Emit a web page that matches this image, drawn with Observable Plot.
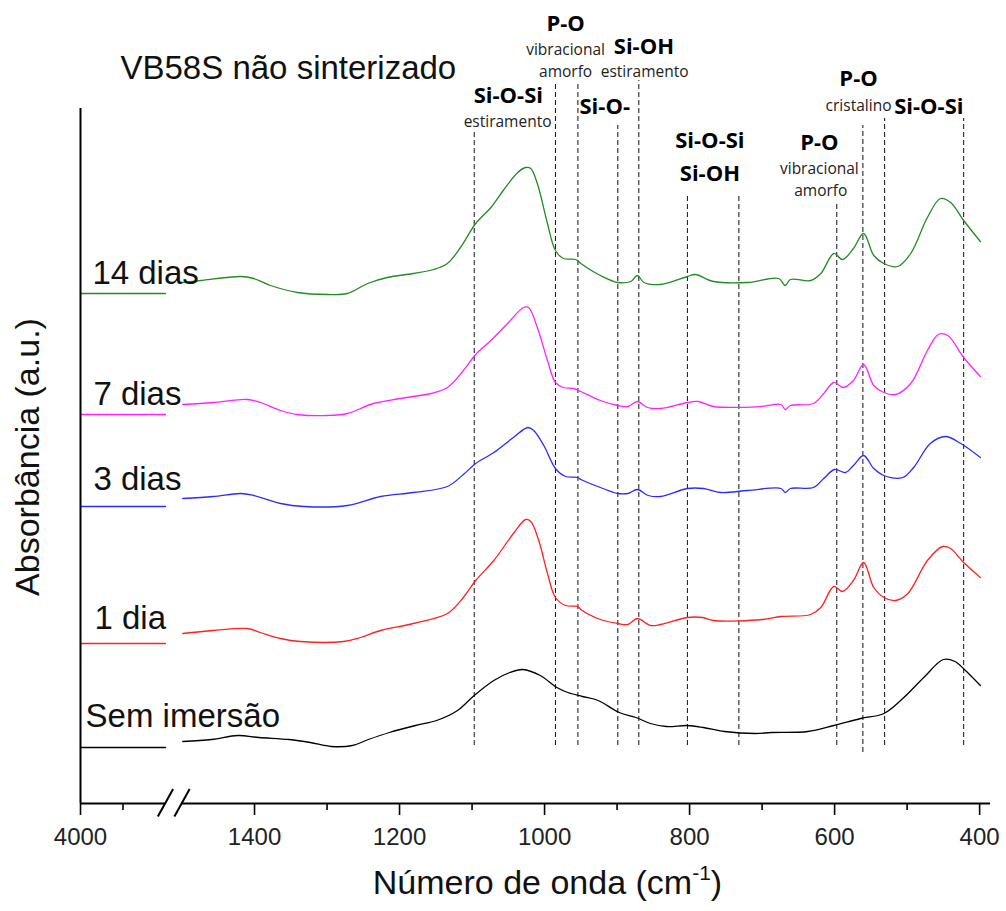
<!DOCTYPE html>
<html>
<head>
<meta charset="utf-8">
<script src="https://cdn.jsdelivr.net/npm/d3@7"></script>
<script src="https://cdn.jsdelivr.net/npm/@observablehq/plot@0.6"></script>
<style>
  body { margin: 0; background: #fff; }
  svg { display: block; }
</style>
</head>
<body>
<div id="chart"></div>
<script>
// ---- Data (wavenumber cm-1, absorbance a.u. with vertical offsets) ----
const wn14 = [1499,1474,1419,1401,1378,1341,1299,1272,1244,1217,1181,1153,1134,1116,1095,1074,1057,1037,1026,1019,1010,996,985,974,957,950,923,899,881,872,863,840,803,792,767,720,677,668,661,633,619,601,589,574,560,546,532,513,495,472,454,440,422,399];
const ab14 = [5.21,5.23,5.27,5.25,5.18,5.11,5.09,5.10,5.20,5.26,5.30,5.34,5.40,5.56,5.80,5.96,6.13,6.31,6.36,6.35,6.20,5.80,5.53,5.45,5.44,5.40,5.28,5.21,5.22,5.28,5.21,5.19,5.27,5.29,5.22,5.21,5.25,5.18,5.24,5.23,5.30,5.50,5.44,5.55,5.70,5.48,5.40,5.37,5.50,5.86,6.05,6.01,5.83,5.62];

const wn7 = [1499,1457,1410,1392,1364,1341,1299,1272,1236,1199,1157,1134,1112,1095,1074,1051,1029,1022,1010,996,985,974,960,950,923,899,885,872,858,840,803,788,767,702,674,668,661,629,615,601,588,574,560,546,532,516,495,472,457,444,422,399];
const ab7 = [3.99,4.01,4.04,4.01,3.93,3.89,3.88,3.90,4.00,4.05,4.10,4.16,4.33,4.49,4.63,4.80,4.96,4.96,4.76,4.43,4.21,4.16,4.15,4.12,4.03,3.98,3.97,4.02,3.96,3.95,4.01,4.02,3.97,3.97,3.99,3.94,3.98,4.00,4.10,4.21,4.16,4.23,4.39,4.18,4.11,4.09,4.20,4.53,4.69,4.68,4.46,4.27];

const wn3 = [1499,1457,1419,1401,1364,1332,1272,1226,1181,1134,1112,1095,1070,1043,1023,1015,1001,985,971,954,950,923,899,885,872,857,840,803,781,757,720,674,668,661,629,615,600,585,574,560,546,532,506,491,468,447,426,399];
const ab3 = [3.05,3.07,3.10,3.08,3.00,2.97,2.98,3.07,3.11,3.17,3.29,3.40,3.51,3.66,3.76,3.73,3.58,3.35,3.27,3.26,3.24,3.16,3.10,3.10,3.14,3.08,3.07,3.15,3.15,3.11,3.13,3.15,3.11,3.15,3.16,3.25,3.34,3.31,3.38,3.48,3.35,3.28,3.26,3.36,3.60,3.67,3.60,3.46];

const wn1 = [1499,1457,1410,1392,1364,1337,1277,1254,1226,1181,1134,1112,1095,1070,1043,1026,1019,1008,996,985,971,954,950,923,899,885,872,854,840,803,782,767,699,674,633,619,601,589,574,560,546,532,516,499,472,451,440,422,399];
const ab1 = [1.70,1.73,1.75,1.71,1.65,1.62,1.62,1.66,1.73,1.80,1.90,2.06,2.23,2.43,2.70,2.84,2.82,2.63,2.30,2.06,1.98,1.97,1.94,1.84,1.80,1.79,1.85,1.78,1.79,1.86,1.86,1.83,1.84,1.87,1.89,1.96,2.17,2.12,2.23,2.41,2.16,2.06,2.03,2.10,2.43,2.57,2.55,2.41,2.26];

const wn0 = [1499,1459,1423,1394,1352,1323,1294,1265,1243,1214,1178,1149,1120,1097,1070,1048,1030,1006,983,968,948,926,897,874,854,832,803,781,752,709,687,637,601,564,532,506,477,450,434,421,399];
const ab0 = [0.62,0.64,0.68,0.66,0.64,0.61,0.57,0.58,0.64,0.71,0.78,0.83,0.93,1.08,1.23,1.31,1.34,1.28,1.16,1.11,1.07,1.03,0.91,0.86,0.80,0.77,0.78,0.76,0.72,0.70,0.71,0.72,0.78,0.85,0.90,1.05,1.26,1.44,1.42,1.34,1.18];

const seriesNames  = ["14 dias", "7 dias", "3 dias", "1 dia", "Sem imersão"];
const seriesColors = ["#228B22", "#FF22FF", "#2B2BFF", "#FF2020", "#000000"];
const seriesWn = [wn14, wn7, wn3, wn1, wn0];
const seriesAb = [ab14, ab7, ab3, ab1, ab0];
const leftLevels = [5.10, 3.89, 2.97, 1.60, 0.56];   // flat part 4000-3500 cm-1
const labelWn = [3930, 3924, 3924, 3918, 3970];
const labelAb = [5.20, 3.99, 3.14, 1.75, 0.77];

// axis ticks
const majorTicks  = [4000, 1400, 1200, 1000, 800, 600, 400];
const majorLabels = ["4000", "1400", "1200", "1000", "800", "600", "400"];
const minorTicks  = [3750, 1300, 1100, 900, 700, 500];
const breakWn = [3500, 1500];

// band markers (dashed lines)
const peakWn     = [1097, 985, 954, 899, 870, 803, 732, 597, 561, 531, 422];
const peakTop    = [6.73, 7.20, 7.20, 6.78, 7.23, 6.08, 6.08, 5.99, 6.78, 6.85, 6.85];
const peakBottom = [0.58, 0.58, 0.58, 0.58, 0.58, 0.58, 0.58, 0.58, 0.51, 0.58, 0.58];

// band annotations
const boldText = ["P-O", "Si-OH", "Si-O-Si", "Si-O-", "Si-O-Si", "Si-OH", "P-O", "Si-O-Si", "P-O"];
const boldWn   = [971, 863, 1050, 917, 772, 772, 567, 470, 621];
const boldAb   = [7.73, 7.50, 7.01, 6.90, 6.56, 6.23, 7.18, 6.90, 6.54];
const noteText = ["vibracional", "amorfo", "estiramento", "estiramento", "cristalino", "vibracional", "amorfo"];
const noteWn   = [971, 971, 862, 1051, 567, 621, 619];
const noteAb   = [7.49, 7.27, 7.27, 6.77, 6.93, 6.30, 6.08];

// ---- broken x axis: 4000-3500 compressed, 1500-400 linear ----
function u(v) { return v >= 3500 ? 1522.8 + (v - 3500) * 0.2344 : v; }
const tickLabelOf = new Map(majorTicks.map((t, i) => [u(t), majorLabels[i]]));

const FONT = "Liberation Sans, Arial, sans-serif";
const CAL = "Open Sans, Lato, sans-serif";

const marks = [];

// dashed band lines
marks.push(Plot.ruleX(peakWn.map((w, i) => ({w, t: peakTop[i], b: peakBottom[i]})), {
  x: d => u(d.w), y1: "b", y2: "t", stroke: "#111", strokeWidth: 1, strokeDasharray: "5,3"
}));

// spectra
seriesNames.forEach((name, k) => {
  const data = seriesWn[k].map((w, i) => ({w, a: seriesAb[k][i]}));
  marks.push(Plot.line(data, {x: d => u(d.w), y: "a", stroke: seriesColors[k], strokeWidth: 1.3, curve: "catmull-rom"}));
  marks.push(Plot.line([{w: 4000, a: leftLevels[k]}, {w: 3500, a: leftLevels[k]}],
    {x: d => u(d.w), y: "a", stroke: seriesColors[k], strokeWidth: 1.3}));
});

// series labels
marks.push(Plot.text(seriesNames.map((n, i) => ({n, w: labelWn[i], a: labelAb[i]})), {
  x: d => u(d.w), y: "a", text: "n", textAnchor: "start", lineAnchor: "bottom",
  fontSize: 33, fontFamily: FONT, fill: "#111"
}));

// annotations
marks.push(Plot.text(boldText.map((t, i) => ({t, w: boldWn[i], a: boldAb[i]})), {
  x: d => u(d.w), y: "a", text: "t", textAnchor: "middle", lineAnchor: "bottom",
  fontSize: 22, fontWeight: "bold", fontFamily: CAL, fill: "#000"
}));
marks.push(Plot.text(noteText.map((t, i) => ({t, w: noteWn[i], a: noteAb[i]})), {
  x: d => u(d.w), y: "a", text: "t", textAnchor: "middle", lineAnchor: "bottom",
  fontSize: 15.5, fontFamily: CAL, fill: "#222"
}));

// axes lines
marks.push(Plot.ruleY([0], {x1: u(4000), x2: u(3500), stroke: "#000", strokeWidth: 2}));
marks.push(Plot.ruleY([0], {x1: 1500, x2: 385, stroke: "#000", strokeWidth: 2}));
marks.push(Plot.ruleX([u(4000)], {y1: 0, y2: 6.95, stroke: "#000", strokeWidth: 2}));

// axis break slashes
marks.push(Plot.link(breakWn, {
  x1: d => u(d) + 10.5, x2: d => u(d) - 10.5, y1: -0.13, y2: 0.145,
  stroke: "#000", strokeWidth: 2
}));

// ticks
marks.push(Plot.axisX(majorTicks.map(u), {
  anchor: "bottom", tickSize: 12, tickPadding: 12, strokeWidth: 1.6,
  tickFormat: d => tickLabelOf.get(d), fontSize: 24, fontFamily: FONT, label: null, fill: "#222"
}));
marks.push(Plot.axisX(minorTicks.map(u), {
  anchor: "bottom", tickSize: 7, strokeWidth: 1.6, tickFormat: () => "", label: null
}));

// titles
marks.push(Plot.text(["VB58S não sinterizado"], {
  frameAnchor: "top-left", dx: 40, dy: -32, textAnchor: "start", lineAnchor: "bottom",
  fontSize: 33, fontFamily: FONT, fill: "#111"
}));
marks.push(Plot.text(["Absorbância (a.u.)"], {
  frameAnchor: "left", dx: -52, rotate: -90, textAnchor: "middle", lineAnchor: "middle",
  fontSize: 34, fontFamily: FONT, fill: "#111"
}));
marks.push(Plot.text(["Número de onda (cm-1)"], {
  frameAnchor: "bottom", dx: 12, dy: 90, textAnchor: "middle", lineAnchor: "bottom",
  fontSize: 34, fontFamily: FONT, fill: "#111"
}));

const chart = Plot.plot({
  width: 1006,
  height: 911,
  marginLeft: 80,
  marginRight: 16,
  marginTop: 110,
  marginBottom: 108,
  style: {background: "#fff", fontFamily: FONT, overflow: "visible"},
  x: {domain: [u(4000), 385], axis: null},
  y: {domain: [0, 6.93], axis: null},
  marks
});

// superscript in x-axis label
const NS = "http://www.w3.org/2000/svg";
chart.querySelectorAll("text").forEach(el => {
  if (el.textContent === "Número de onda (cm-1)") {
    el.textContent = "";
    el.appendChild(document.createTextNode("Número de onda (cm"));
    const sup = document.createElementNS(NS, "tspan");
    sup.setAttribute("dy", "-14");
    sup.setAttribute("font-size", "21");
    sup.textContent = "-1";
    const close = document.createElementNS(NS, "tspan");
    close.setAttribute("dy", "14");
    close.textContent = ")";
    el.appendChild(sup);
    el.appendChild(close);
  }
});

document.getElementById("chart").appendChild(chart);
</script>
</body>
</html>
